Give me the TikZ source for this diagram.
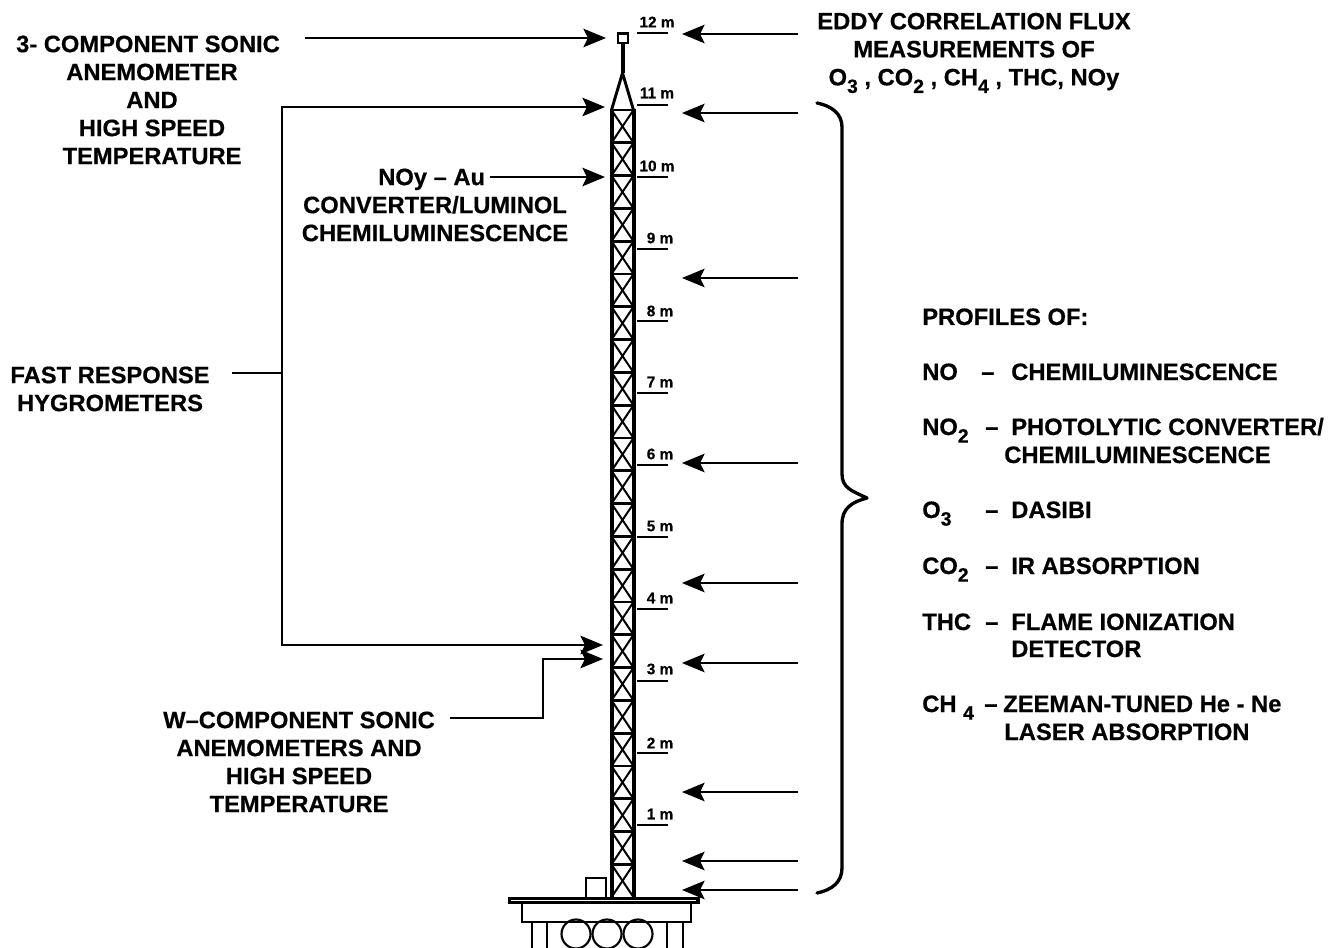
\documentclass[tikz,border=0pt]{standalone}
\usepackage{fontspec}
\setmainfont[BoldFeatures={FakeBold=0.5}]{Liberation Sans}
\usetikzlibrary{arrows.meta}
\newcommand{\lowsub}[1]{\raisebox{-0.32em}{\fontsize{14.5}{14.5}\selectfont #1}}

\begin{document}
\begin{tikzpicture}[
    x=0.75pt, y=-0.75pt,
    every node/.style={inner sep=0pt},
    lab/.style={font=\fontsize{17.8}{21}\bfseries\selectfont, align=center},
    rowtext/.style={font=\fontsize{17.8}{21}\bfseries\selectfont, anchor=base west, align=left},
    hgt/.style={font=\fontsize{11.5}{13}\bfseries\selectfont},
    tick/.style={line width=1.6pt},
    lead/.style={line width=1pt},
    tip/.style={line width=1pt, -{Stealth[length=17pt, width=14pt, inset=3.5pt]}},
    post/.style={line width=3pt},
    bar/.style={line width=2pt},
    brace/.style={line width=2.5pt, line cap=round, line join=round},
    plant/.style={line width=1.5pt}
]
    \useasboundingbox (0,0) rectangle (1338,948);

    % Tower lattice
    \foreach \i in {0,...,23} {
        \draw[plant] ({611.5},{110+32.8*\i}) -- ({633.5},{110+32.8*(\i+1)});
        \draw[plant] ({633.5},{110+32.8*\i}) -- ({611.5},{110+32.8*(\i+1)});
        \draw[bar] (611,{110+32.8*\i}) -- (634,{110+32.8*\i});
    }
    \draw[post] (611.5,109) -- (611.5,898);
    \draw[post] (633.5,109) -- (633.5,898);

    % Top of the tower
    \draw[line width=2.2pt] (611.5,110) -- (622.5,73) -- (633.5,110);
    \draw[line width=3pt] (622.5,73) -- (622.5,43);
    \draw[line width=1.8pt, fill=white] (618,33.5) rectangle (628,43);

    % Platform
    \draw[line width=2.5pt, fill=white] (509.5,898.5) rectangle (698,902.5);
    \draw[line width=2pt] (522,902) rectangle (691,922);
    \draw[plant] (585.5,897) -- (585.5,877.5) -- (606,877.5) -- (606,897);
    \draw[line width=1.6pt] (532,922) -- (532,948);
    \draw[line width=1.6pt] (547,922) -- (547,948);
    \draw[line width=1.6pt] (667,922) -- (667,948);
    \draw[line width=1.6pt] (683,922) -- (683,948);
    \draw[line width=1.6pt] (576,934) circle (14.5);
    \draw[line width=1.6pt] (607,934) circle (14.5);
    \draw[line width=1.6pt] (638,934) circle (14.5);

    % Height marks
    \draw[tick] (637,33) -- (668,33);
    \draw[tick] (637,105) -- (668,105);
    \draw[tick] (637,177) -- (668,177);
    \draw[tick] (637,249) -- (668,249);
    \draw[tick] (637,321) -- (668,321);
    \draw[tick] (637,393) -- (668,393);
    \draw[tick] (637,465) -- (668,465);
    \draw[tick] (637,537) -- (668,537);
    \draw[tick] (637,609) -- (668,609);
    \draw[tick] (637,681) -- (668,681);
    \draw[tick] (637,753) -- (668,753);
    \draw[tick] (637,825) -- (668,825);

    \node[hgt] (h12) at (657,22) {12 m};
    \node[hgt] (h11) at (657,93) {11 m};
    \node[hgt] (h10) at (657,166) {10 m};
    \node[hgt] (h9) at (660,238) {9 m};
    \node[hgt] (h8) at (660,311) {8 m};
    \node[hgt] (h7) at (660,382) {7 m};
    \node[hgt] (h6) at (660,454) {6 m};
    \node[hgt] (h5) at (660,526) {5 m};
    \node[hgt] (h4) at (660,598) {4 m};
    \node[hgt] (h3) at (660,669) {3 m};
    \node[hgt] (h2) at (660,743) {2 m};
    \node[hgt] (h1) at (660,814) {1 m};

    % Left labels
    \node[lab] (sonic) at (152,100) {3- COMPONENT SONIC\hspace*{6pt}\\ANEMOMETER\\AND\\HIGH SPEED\\TEMPERATURE};
    \node[lab] (noy) at (435,205) {NOy -- Au\hspace*{5pt}\\CONVERTER/LUMINOL\\CHEMILUMINESCENCE};
    \node[lab] (fast) at (110,389) {FAST RESPONSE\\HYGROMETERS};
    \node[lab] (wcomp) at (299,762) {W--COMPONENT SONIC\\ANEMOMETERS AND\\HIGH SPEED\\TEMPERATURE};

    % Left connectors
    \coordinate (sonicout) at (305,38);
    \coordinate (sonicin) at (606,38);
    \draw[tip] (sonicout) -- (sonicin);

    \coordinate (noyout) at (490,177);
    \coordinate (noyin) at (605,177);
    \draw[tip] (noyout) -- (noyin);

    \coordinate (fastout) at (232,373);
    \coordinate (fastbus) at (282,373);
    \coordinate (fasttop) at (605,107);
    \coordinate (fastlow) at (603,645);
    \draw[lead] (fastout) -- (fastbus);
    \draw[tip] (fastbus) |- (fasttop);
    \draw[tip] (fastbus) |- (fastlow);

    \coordinate (wout) at (450,718);
    \coordinate (wbend) at (543,718);
    \coordinate (win) at (603,659);
    \draw[tip] (wout) -- (wbend) |- (win);

    % Right arrows
    \coordinate (ra) at (798,34);   \coordinate (ta) at (682,34);
    \coordinate (rb) at (798,113);  \coordinate (tb) at (682,113);
    \coordinate (rc) at (798,278);  \coordinate (tc) at (682,278);
    \coordinate (rd) at (798,463);  \coordinate (td) at (682,463);
    \coordinate (re) at (798,583);  \coordinate (te) at (682,583);
    \coordinate (rf) at (798,663);  \coordinate (tf) at (682,663);
    \coordinate (rg) at (798,792);  \coordinate (tg) at (682,792);
    \coordinate (rh) at (798,861);  \coordinate (th) at (682,861);
    \coordinate (ri) at (798,890);  \coordinate (ti) at (682,890);
    \draw[tip] (ra) -- (ta);
    \draw[tip] (rb) -- (tb);
    \draw[tip] (rc) -- (tc);
    \draw[tip] (rd) -- (td);
    \draw[tip] (re) -- (te);
    \draw[tip] (rf) -- (tf);
    \draw[tip] (rg) -- (tg);
    \draw[tip] (rh) -- (th);
    \draw[tip] (ri) -- (ti);

    % Large brace
    \draw[brace] (817,103) .. controls (832,106) and (842,114) .. (842,127)
        -- (842,474) .. controls (842,488) and (852,491) .. (867,498)
        .. controls (852,502) and (842,508) .. (842,524)
        -- (842,868) .. controls (842,882) and (832,890) .. (817,893);

    % Right labels
    \node[lab] (eddy) at (974,53) {EDDY CORRELATION FLUX\\MEASUREMENTS OF\\O\lowsub{3} , CO\lowsub{2} , CH\lowsub{4} , THC, NOy};
    \node[rowtext] (prof) at (922,325) {PROFILES OF:};

    \node[rowtext] (no) at (922,380) {NO};
    \node[rowtext] (nodash) at (981,380) {--};
    \node[rowtext] (notxt) at (1011,380) {CHEMILUMINESCENCE};

    \node[rowtext] (notwo) at (922,435) {NO\lowsub{2}};
    \node[rowtext] (notwodash) at (985,435) {--};
    \node[rowtext] (notwotxt) at (1011,435) {PHOTOLYTIC CONVERTER/};
    \node[rowtext] (notwomore) at (1004,463) {CHEMILUMINESCENCE};

    \node[rowtext] (othree) at (922,518) {O\lowsub{3}};
    \node[rowtext] (othreedash) at (985,518) {--};
    \node[rowtext] (othreetxt) at (1011,518) {DASIBI};

    \node[rowtext] (cotwo) at (922,574) {CO\lowsub{2}};
    \node[rowtext] (cotwodash) at (985,574) {--};
    \node[rowtext] (cotwotxt) at (1011,574) {IR ABSORPTION};

    \node[rowtext] (thc) at (922,630) {THC};
    \node[rowtext] (thcdash) at (985,630) {--};
    \node[rowtext] (thctxt) at (1011,630) {FLAME IONIZATION};
    \node[rowtext] (thcmore) at (1011,657) {DETECTOR};

    \node[rowtext] (chfour) at (922,712) {CH \lowsub{4}};
    \node[rowtext] (chfourdash) at (984,712) {--};
    \node[rowtext] (chfourtxt) at (1003,712) {ZEEMAN-TUNED He - Ne};
    \node[rowtext] (chfourmore) at (1004,740) {LASER ABSORPTION};
\end{tikzpicture}
\end{document}
